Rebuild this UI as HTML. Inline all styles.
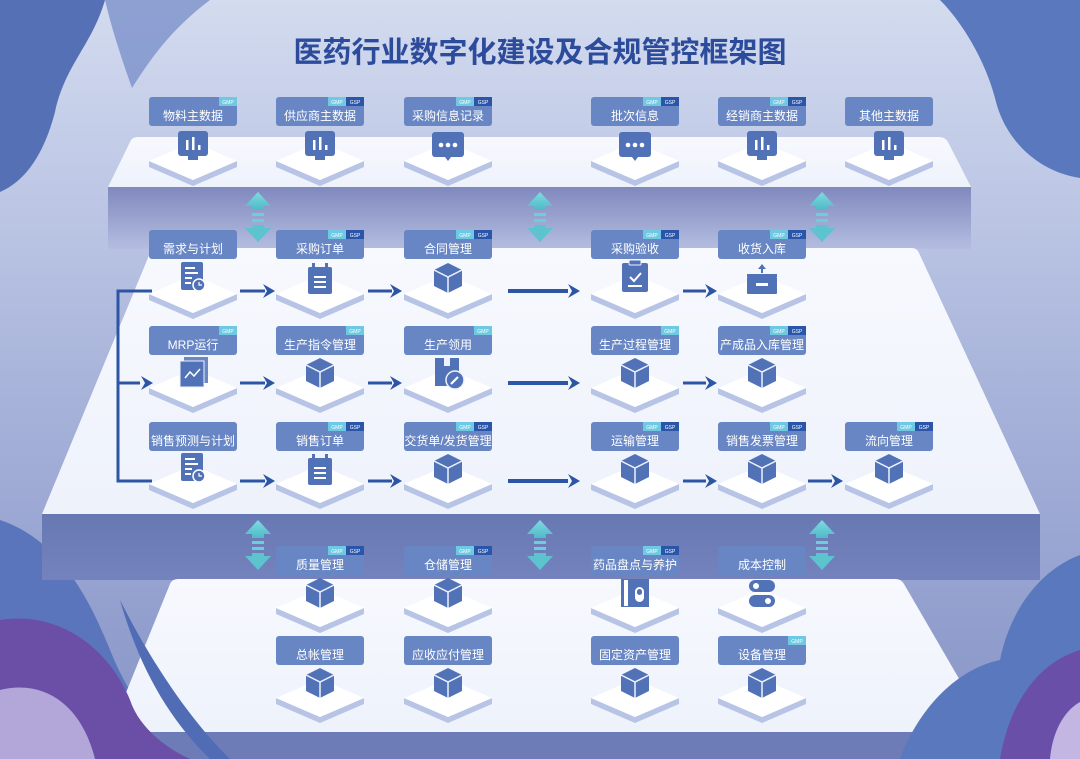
<!DOCTYPE html>
<html><head><meta charset="utf-8"><style>
html,body{margin:0;padding:0;width:1080px;height:759px;overflow:hidden}
svg{display:block}
.lb{font-family:"Liberation Sans","Noto Sans CJK SC",sans-serif;font-size:12px;fill:#fff;text-anchor:middle}
.tg{font-family:"Liberation Sans",sans-serif;font-size:5px;fill:#fff;text-anchor:middle}
</style></head><body>
<svg width="1080" height="759" viewBox="0 0 1080 759" xmlns="http://www.w3.org/2000/svg">
<defs>
<linearGradient id="bg" x1="0" y1="0" x2="0" y2="1"><stop offset="0" stop-color="#d3dbef"/><stop offset="0.5" stop-color="#a9b4db"/><stop offset="1" stop-color="#8593c6"/></linearGradient>
<linearGradient id="band1" x1="0" y1="0" x2="0" y2="1"><stop offset="0" stop-color="#8089bd"/><stop offset="1" stop-color="#b4bde0"/></linearGradient>
<linearGradient id="band2" x1="0" y1="0" x2="0" y2="1"><stop offset="0" stop-color="#6878b3"/><stop offset="1" stop-color="#7483bd"/></linearGradient>
<linearGradient id="face" x1="0" y1="0" x2="0" y2="1"><stop offset="0" stop-color="#f7f9fe"/><stop offset="1" stop-color="#eef2fb"/></linearGradient>
<linearGradient id="dbl" x1="0" y1="0" x2="0" y2="1"><stop offset="0" stop-color="#7fdbe0"/><stop offset="1" stop-color="#4fb9c8"/></linearGradient>
<g id="plate">
<polygon points="-44,2 0,21 44,2 44,8 0,27 -44,8" fill="#b7c4e6"/>
<polygon points="-44,2 0,-17 44,2 0,21" fill="#ffffff"/>
</g>
<g id="cube"><polygon points="0,-15 14,-8 14,8 0,15 -14,8 -14,-8" fill="#5272b8"/><polyline points="-14,-8 0,-1 14,-8" fill="none" stroke="#eef2fb" stroke-width="1.5"/><line x1="0" y1="-1" x2="0" y2="15" stroke="#eef2fb" stroke-width="1.5"/></g>
<g id="chart"><rect x="-15" y="-14" width="30" height="25" rx="3" fill="#5272b8"/><rect x="-5" y="11" width="10" height="4" fill="#5272b8"/><rect x="-7" y="-5" width="2.5" height="10" fill="#fff"/><rect x="-1" y="-8" width="2.5" height="13" fill="#fff"/><rect x="5" y="0" width="2.5" height="5" fill="#fff"/></g>
<g id="dots"><rect x="-16" y="-13" width="32" height="25" rx="3" fill="#5272b8"/><polygon points="-3,12 3,12 0,16" fill="#5272b8"/><circle cx="-7" cy="0" r="2.3" fill="#fff"/><circle cx="0" cy="0" r="2.3" fill="#fff"/><circle cx="7" cy="0" r="2.3" fill="#fff"/></g>
<g id="doc"><rect x="-12" y="-15" width="22" height="28" rx="2" fill="#5272b8"/><rect x="-8" y="-10" width="10" height="2" fill="#fff"/><rect x="-8" y="-5" width="13" height="2" fill="#fff"/><rect x="-8" y="0" width="7" height="2" fill="#fff"/><rect x="-8" y="5" width="6" height="2" fill="#fff"/><circle cx="6" cy="8" r="6" fill="#5272b8" stroke="#fff" stroke-width="1.5"/><polyline points="6,5 6,8 9,8" fill="none" stroke="#fff" stroke-width="1.2"/></g>
<g id="cal"><rect x="-12" y="-12" width="24" height="27" rx="2" fill="#5272b8"/><rect x="-8" y="-16" width="3" height="6" fill="#5272b8"/><rect x="5" y="-16" width="3" height="6" fill="#5272b8"/><rect x="-6" y="-3" width="12" height="2" fill="#fff"/><rect x="-6" y="2" width="12" height="2" fill="#fff"/><rect x="-6" y="7" width="12" height="2" fill="#fff"/></g>
<g id="clip"><rect x="-13" y="-13" width="26" height="29" rx="2" fill="#5272b8"/><rect x="-6" y="-16" width="12" height="5" rx="1" fill="#5272b8" stroke="#eef2fb"/><polyline points="-5,1 -1,5 6,-3" fill="none" stroke="#fff" stroke-width="2"/><rect x="-7" y="9" width="14" height="2" fill="#fff"/></g>
<g id="box"><rect x="-15" y="-3" width="30" height="17" rx="1" fill="#5272b8"/><rect x="-15" y="-6" width="30" height="3" fill="#5272b8"/><rect x="-6" y="3" width="12" height="3" fill="#fff"/><polygon points="0,-16 -4,-11 -1,-11 -1,-7 1,-7 1,-11 4,-11" fill="#5272b8"/></g>
<g id="trend"><rect x="-9" y="-17" width="24" height="26" fill="#5272b8" opacity=".85"/><rect x="-13" y="-13" width="24" height="26" fill="#5272b8" stroke="#eef2fb"/><polyline points="-8,4 -3,-2 1,2 7,-5" fill="none" stroke="#fff" stroke-width="1.5"/></g>
<g id="wrench"><rect x="-13" y="-15" width="24" height="28" fill="#5272b8"/><rect x="-4" y="-15" width="6" height="8" fill="#eef2fb"/><circle cx="7" cy="7" r="9" fill="#5272b8" stroke="#eef2fb" stroke-width="1.5"/><line x1="3" y1="11" x2="10" y2="4" stroke="#fff" stroke-width="2.2"/></g>
<g id="pill"><rect x="-14" y="-14" width="28" height="28" fill="#5272b8"/><rect x="-11" y="-13" width="4" height="26" fill="#fff"/><rect x="0" y="-6" width="9" height="15" rx="4.5" fill="#fff"/><rect x="2" y="-4" width="5" height="6" rx="2.5" fill="#5272b8"/></g>
<g id="toggle"><rect x="-13" y="-14" width="26" height="12" rx="6" fill="#5272b8"/><circle cx="-6" cy="-8" r="3" fill="#fff"/><rect x="-13" y="1" width="26" height="12" rx="6" fill="#5272b8"/><circle cx="6" cy="7" r="3" fill="#fff"/></g>
<g id="ah"><polygon points="0,0 -12,-7 -8,0 -12,7" fill="#2d55a5"/></g>
<g id="dbla"><polygon points="0,0 13,14 6,14 6,18 -6,18 -6,14 -13,14" fill="url(#dbl)"/><rect x="-6" y="21" width="12" height="3" fill="#6ccfd8"/><rect x="-6" y="27" width="12" height="3" fill="#6ccfd8"/><polygon points="0,50 13,36 6,36 6,33 -6,33 -6,36 -13,36" fill="#5cc3cf"/></g>
</defs>
<rect width="1080" height="759" fill="url(#bg)"/>
<!-- decorative clouds -->
<path d="M0,0 L105,0 C92,45 65,65 55,112 C45,150 28,180 0,192 Z" fill="#5670b6"/>
<path d="M105,0 L210,0 C170,30 150,60 132,88 C122,60 112,30 105,0Z" fill="#7088c6" opacity=".7"/>
<path d="M940,0 L1080,0 L1080,178 C1040,172 1005,142 995,98 C985,60 962,22 940,0Z" fill="#5a78bd"/>
<path d="M0,520 C60,540 90,600 110,650 C130,700 160,740 200,759 L0,759Z" fill="#5a75bb"/>
<!-- title -->
<text x="540" y="62" text-anchor="middle" font-family="'Liberation Sans','Noto Sans CJK SC',sans-serif" font-size="29" font-weight="bold" fill="#2c4b9b">医药行业数字化建设及合规管控框架图</text>
<!-- platforms -->
<rect x="108" y="187" width="863" height="62" fill="url(#band1)"/>
<path d="M138,137 L939,137 Q945,137 948,142 L971,187 L108,187 L130,142 Q132,137 138,137Z" fill="url(#face)"/>
<rect x="42" y="514" width="998" height="66" fill="url(#band2)"/>
<path d="M156,248 L912,248 Q917,248 919,253 L1040,514 L42,514 L150,253 Q152,248 156,248Z" fill="url(#face)"/>
<rect x="110" y="732" width="880" height="27" fill="#6d7cb6"/>
<path d="M178,579 L896,579 Q901,579 904,584 L990,732 L110,732 L170,584 Q172,579 178,579Z" fill="url(#face)"/>
<path d="M1080,555 C1040,570 1010,610 1000,660 C960,668 920,705 900,759 L1080,759Z" fill="#5a78bd"/>
<path d="M1080,650 C1040,662 1010,700 1000,759 L1080,759Z" fill="#6a4fa8"/>
<path d="M1080,702 C1062,712 1052,735 1050,759 L1080,759Z" fill="#c3b6e2"/>
<path d="M0,620 C60,610 110,650 130,700 C140,730 170,750 190,759 L0,759Z" fill="#6b4fa6"/>
<path d="M0,690 C40,680 80,700 95,759 L0,759Z" fill="#b3a6d8"/>
<path d="M120,600 C150,660 190,720 230,759 L210,759 C170,720 140,670 120,600Z" fill="#4f6cb4"/>
<!-- double arrows -->
<use href="#dbla" x="258" y="192"/><use href="#dbla" x="540" y="192"/><use href="#dbla" x="822" y="192"/>
<use href="#dbla" x="258" y="520"/><use href="#dbla" x="540" y="520"/><use href="#dbla" x="822" y="520"/>
<!-- connectors -->
<g stroke="#2d55a5" stroke-width="3" fill="none">
<polyline points="152,291 118,291 118,481 152,481"/>
<line x1="118" y1="383" x2="140" y2="383"/>
<line x1="240" y1="291" x2="265" y2="291"/><line x1="368" y1="291" x2="392" y2="291"/><line x1="508" y1="291" x2="568" y2="291" stroke-width="4"/><line x1="683" y1="291" x2="706" y2="291"/>
<line x1="240" y1="383" x2="265" y2="383"/><line x1="368" y1="383" x2="392" y2="383"/><line x1="508" y1="383" x2="568" y2="383" stroke-width="4"/><line x1="683" y1="383" x2="706" y2="383"/>
<line x1="240" y1="481" x2="265" y2="481"/><line x1="368" y1="481" x2="392" y2="481"/><line x1="508" y1="481" x2="568" y2="481" stroke-width="4"/><line x1="683" y1="481" x2="706" y2="481"/><line x1="808" y1="481" x2="832" y2="481"/>
</g>
<use href="#ah" x="153" y="383"/>
<use href="#ah" x="275" y="291"/><use href="#ah" x="402" y="291"/><use href="#ah" x="580" y="291"/><use href="#ah" x="717" y="291"/>
<use href="#ah" x="275" y="383"/><use href="#ah" x="402" y="383"/><use href="#ah" x="580" y="383"/><use href="#ah" x="717" y="383"/>
<use href="#ah" x="275" y="481"/><use href="#ah" x="402" y="481"/><use href="#ah" x="580" y="481"/><use href="#ah" x="717" y="481"/><use href="#ah" x="843" y="481"/>

<!-- plates -->
<g>
<use href="#plate" x="193" y="159"/><use href="#plate" x="320" y="159"/><use href="#plate" x="448" y="159"/><use href="#plate" x="635" y="159"/><use href="#plate" x="762" y="159"/><use href="#plate" x="889" y="159"/>
<use href="#plate" x="193" y="292"/><use href="#plate" x="320" y="292"/><use href="#plate" x="448" y="292"/><use href="#plate" x="635" y="292"/><use href="#plate" x="762" y="292"/>
<use href="#plate" x="193" y="386"/><use href="#plate" x="320" y="386"/><use href="#plate" x="448" y="386"/><use href="#plate" x="635" y="386"/><use href="#plate" x="762" y="386"/>
<use href="#plate" x="193" y="482"/><use href="#plate" x="320" y="482"/><use href="#plate" x="448" y="482"/><use href="#plate" x="635" y="482"/><use href="#plate" x="762" y="482"/><use href="#plate" x="889" y="482"/>
<use href="#plate" x="320" y="606"/><use href="#plate" x="448" y="606"/><use href="#plate" x="635" y="606"/><use href="#plate" x="762" y="606"/>
<use href="#plate" x="320" y="696"/><use href="#plate" x="448" y="696"/><use href="#plate" x="635" y="696"/><use href="#plate" x="762" y="696"/>
</g>
<!-- icons -->
<use href="#chart" x="193" y="145"/><use href="#chart" x="320" y="145"/><use href="#dots" x="448" y="145"/><use href="#dots" x="635" y="145"/><use href="#chart" x="762" y="145"/><use href="#chart" x="889" y="145"/>
<use href="#doc" x="193" y="277"/><use href="#cal" x="320" y="279"/><use href="#cube" x="448" y="278"/><use href="#clip" x="635" y="276"/><use href="#box" x="762" y="280"/>
<use href="#trend" x="193" y="374"/><use href="#cube" x="320" y="373"/><use href="#wrench" x="448" y="373"/><use href="#cube" x="635" y="373"/><use href="#cube" x="762" y="373"/>
<use href="#doc" x="193" y="468"/><use href="#cal" x="320" y="470"/><use href="#cube" x="448" y="469"/><use href="#cube" x="635" y="469"/><use href="#cube" x="762" y="469"/><use href="#cube" x="889" y="469"/>
<use href="#cube" x="320" y="593"/><use href="#cube" x="448" y="593"/><use href="#pill" x="635" y="593"/><use href="#toggle" x="762" y="594"/>
<use href="#cube" x="320" y="683"/><use href="#cube" x="448" y="683"/><use href="#cube" x="635" y="683"/><use href="#cube" x="762" y="683"/>

<!-- label boxes -->
<g fill="#6886c4">
<rect x="149" y="97" width="88" height="29" rx="3"/><rect x="276" y="97" width="88" height="29" rx="3"/><rect x="404" y="97" width="88" height="29" rx="3"/><rect x="591" y="97" width="88" height="29" rx="3"/><rect x="718" y="97" width="88" height="29" rx="3"/><rect x="845" y="97" width="88" height="29" rx="3"/>
<rect x="149" y="230" width="88" height="29" rx="3"/><rect x="276" y="230" width="88" height="29" rx="3"/><rect x="404" y="230" width="88" height="29" rx="3"/><rect x="591" y="230" width="88" height="29" rx="3"/><rect x="718" y="230" width="88" height="29" rx="3"/>
<rect x="149" y="326" width="88" height="29" rx="3"/><rect x="276" y="326" width="88" height="29" rx="3"/><rect x="404" y="326" width="88" height="29" rx="3"/><rect x="591" y="326" width="88" height="29" rx="3"/><rect x="718" y="326" width="88" height="29" rx="3"/>
<rect x="149" y="422" width="88" height="29" rx="3"/><rect x="276" y="422" width="88" height="29" rx="3"/><rect x="404" y="422" width="88" height="29" rx="3"/><rect x="591" y="422" width="88" height="29" rx="3"/><rect x="718" y="422" width="88" height="29" rx="3"/><rect x="845" y="422" width="88" height="29" rx="3"/>
<rect x="276" y="546" width="88" height="29" rx="3"/><rect x="404" y="546" width="88" height="29" rx="3"/><rect x="591" y="546" width="88" height="29" rx="3"/><rect x="718" y="546" width="88" height="29" rx="3"/>
<rect x="276" y="636" width="88" height="29" rx="3"/><rect x="404" y="636" width="88" height="29" rx="3"/><rect x="591" y="636" width="88" height="29" rx="3"/><rect x="718" y="636" width="88" height="29" rx="3"/>
</g>
<g fill="#6fc9e3">
<rect x="219" y="97" width="18" height="9"/>
<rect x="219" y="326" width="18" height="9"/><rect x="346" y="326" width="18" height="9"/><rect x="474" y="326" width="18" height="9"/><rect x="661" y="326" width="18" height="9"/>
<rect x="788" y="636" width="18" height="9"/>
<rect x="328" y="97" width="18" height="9"/><rect x="456" y="97" width="18" height="9"/><rect x="643" y="97" width="18" height="9"/><rect x="770" y="97" width="18" height="9"/>
<rect x="328" y="230" width="18" height="9"/><rect x="456" y="230" width="18" height="9"/><rect x="643" y="230" width="18" height="9"/><rect x="770" y="230" width="18" height="9"/>
<rect x="770" y="326" width="18" height="9"/>
<rect x="328" y="422" width="18" height="9"/><rect x="456" y="422" width="18" height="9"/><rect x="643" y="422" width="18" height="9"/><rect x="770" y="422" width="18" height="9"/><rect x="897" y="422" width="18" height="9"/>
<rect x="328" y="546" width="18" height="9"/><rect x="456" y="546" width="18" height="9"/><rect x="643" y="546" width="18" height="9"/>
</g>
<g fill="#2a55a8">
<rect x="346" y="97" width="18" height="9"/><rect x="474" y="97" width="18" height="9"/><rect x="661" y="97" width="18" height="9"/><rect x="788" y="97" width="18" height="9"/>
<rect x="346" y="230" width="18" height="9"/><rect x="474" y="230" width="18" height="9"/><rect x="661" y="230" width="18" height="9"/><rect x="788" y="230" width="18" height="9"/>
<rect x="788" y="326" width="18" height="9"/>
<rect x="346" y="422" width="18" height="9"/><rect x="474" y="422" width="18" height="9"/><rect x="661" y="422" width="18" height="9"/><rect x="788" y="422" width="18" height="9"/><rect x="915" y="422" width="18" height="9"/>
<rect x="346" y="546" width="18" height="9"/><rect x="474" y="546" width="18" height="9"/><rect x="661" y="546" width="18" height="9"/>
</g>
<g class="tg">
<text x="228" y="104">GMP</text><text x="228" y="333">GMP</text><text x="355" y="333">GMP</text><text x="483" y="333">GMP</text><text x="670" y="333">GMP</text><text x="797" y="643">GMP</text>
<text x="337" y="104">GMP</text><text x="355" y="104">GSP</text><text x="465" y="104">GMP</text><text x="483" y="104">GSP</text><text x="652" y="104">GMP</text><text x="670" y="104">GSP</text><text x="779" y="104">GMP</text><text x="797" y="104">GSP</text>
<text x="337" y="237">GMP</text><text x="355" y="237">GSP</text><text x="465" y="237">GMP</text><text x="483" y="237">GSP</text><text x="652" y="237">GMP</text><text x="670" y="237">GSP</text><text x="779" y="237">GMP</text><text x="797" y="237">GSP</text>
<text x="779" y="333">GMP</text><text x="797" y="333">GSP</text>
<text x="337" y="429">GMP</text><text x="355" y="429">GSP</text><text x="465" y="429">GMP</text><text x="483" y="429">GSP</text><text x="652" y="429">GMP</text><text x="670" y="429">GSP</text><text x="779" y="429">GMP</text><text x="797" y="429">GSP</text><text x="906" y="429">GMP</text><text x="924" y="429">GSP</text>
<text x="337" y="553">GMP</text><text x="355" y="553">GSP</text><text x="465" y="553">GMP</text><text x="483" y="553">GSP</text><text x="652" y="553">GMP</text><text x="670" y="553">GSP</text>
</g>
<g class="lb">
<text x="193" y="120">物料主数据</text><text x="320" y="120">供应商主数据</text><text x="448" y="120">采购信息记录</text><text x="635" y="120">批次信息</text><text x="762" y="120">经销商主数据</text><text x="889" y="120">其他主数据</text>
<text x="193" y="253">需求与计划</text><text x="320" y="253">采购订单</text><text x="448" y="253">合同管理</text><text x="635" y="253">采购验收</text><text x="762" y="253">收货入库</text>
<text x="193" y="349">MRP运行</text><text x="320" y="349">生产指令管理</text><text x="448" y="349">生产领用</text><text x="635" y="349">生产过程管理</text><text x="762" y="349">产成品入库管理</text>
<text x="193" y="445">销售预测与计划</text><text x="320" y="445">销售订单</text><text x="448" y="445">交货单/发货管理</text><text x="635" y="445">运输管理</text><text x="762" y="445">销售发票管理</text><text x="889" y="445">流向管理</text>
<text x="320" y="569">质量管理</text><text x="448" y="569">仓储管理</text><text x="635" y="569">药品盘点与养护</text><text x="762" y="569">成本控制</text>
<text x="320" y="659">总帐管理</text><text x="448" y="659">应收应付管理</text><text x="635" y="659">固定资产管理</text><text x="762" y="659">设备管理</text>
</g>
</svg>
</body></html>
